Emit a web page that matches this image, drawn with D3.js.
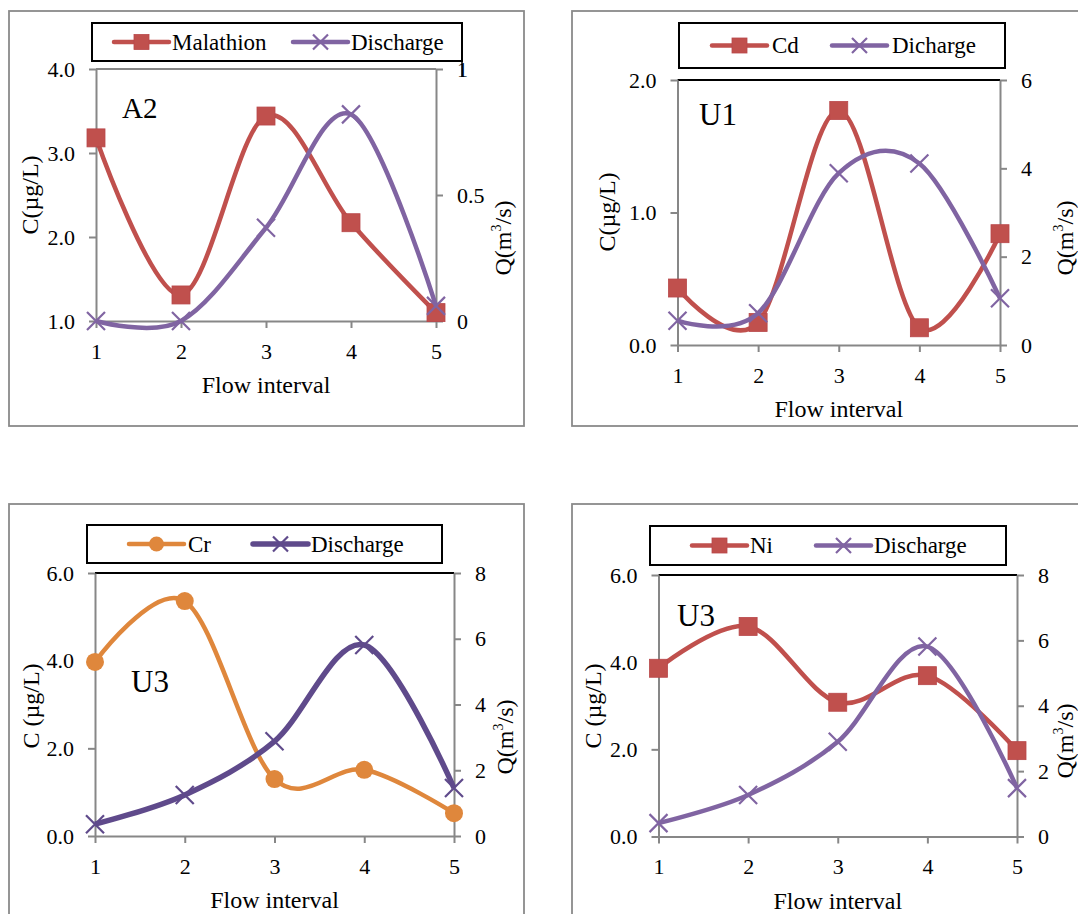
<!DOCTYPE html>
<html>
<head>
<meta charset="utf-8">
<script src="https://cdn.jsdelivr.net/npm/d3@7"></script>
<style>
  html, body { margin: 0; padding: 0; background: #fff; }
  svg { display: block; }
  text { font-family: "Liberation Serif", "Times New Roman", serif; fill: #000; }
</style>
</head>
<body>
<svg id="chart" width="1078" height="914"></svg>
<script>
// Flow intervals shared by all four stations
const flowIntervals = [1, 2, 3, 4, 5];

// Station A2: malathion concentration (µg/L) and discharge (m³/s)
const malathionA2 = [3.18, 1.31, 3.44, 2.17, 1.10];
const dischargeA2 = [0.00, 0.00, 0.37, 0.82, 0.06];

// Station U1: cadmium concentration and discharge
const cadmiumU1 = [0.43, 0.17, 1.77, 0.13, 0.84];
const dischargeU1 = [0.55, 0.72, 3.89, 4.11, 1.06];

// Station U3: chromium and nickel concentrations with discharge
const chromiumU3 = [3.97, 5.36, 1.30, 1.51, 0.52];
const dischargeU3Cr = [0.36, 1.25, 2.88, 5.81, 1.46];
const nickelU3 = [3.86, 4.82, 3.08, 3.69, 1.97];
const dischargeU3Ni = [0.41, 1.27, 2.90, 5.81, 1.48];

// Axis ticks
const concTicksA2 = [1, 2, 3, 4];
const flowTicksA2 = [0, 0.5, 1];
const concTicksU1 = [0, 1, 2];
const flowTicksU1 = [0, 2, 4, 6];
const concTicksU3 = [0, 2, 4, 6];
const flowTicksU3 = [0, 2, 4, 6, 8];

const RED = "#C0504D", PURPLE = "#8064A2", DARK_PURPLE = "#5F4A8B", ORANGE = "#DF873C";
const GREY = "#878787";

const panels = [
  {
    frame: [9, 11, 515, 415], plot: [96, 436, 69, 321],
    conc: malathionA2, flow: dischargeA2,
    concDomain: [1, 4], concTicks: concTicksA2, flowDomain: [0, 1], flowTicks: flowTicksA2,
    concName: "Malathion", flowName: "Discharge",
    concColor: RED, flowColor: PURPLE, marker: "square", flowWidth: 4.5,
    station: "A2", stationPos: [122, 118], stationSize: 29,
    yTitle: "C(µg/L)", yTitlePos: [30, 195], y2TitlePos: [503, 238],
    legend: [92, 23, 370, 38], legendItems: [114, 172, 293, 351],
    topColor: GREY, stub: true
  },
  {
    frame: [572, 11, 560, 415], plot: [677.5, 1000, 80, 345],
    conc: cadmiumU1, flow: dischargeU1,
    concDomain: [0, 2], concTicks: concTicksU1, flowDomain: [0, 6], flowTicks: flowTicksU1,
    concName: "Cd", flowName: "Dicharge",
    concColor: RED, flowColor: PURPLE, marker: "square", flowWidth: 4.5,
    station: "U1", stationPos: [699, 125], stationSize: 31,
    yTitle: "C(µg/L)", yTitlePos: [607, 212], y2TitlePos: [1065, 238],
    legend: [679, 23, 326, 45], legendItems: [712, 772, 832, 892],
    topColor: "#000"
  },
  {
    frame: [9, 504, 515, 440], plot: [95, 454, 573, 836],
    conc: chromiumU3, flow: dischargeU3Cr,
    concDomain: [0, 6], concTicks: concTicksU3, flowDomain: [0, 8], flowTicks: flowTicksU3,
    concName: "Cr", flowName: "Discharge",
    concColor: ORANGE, flowColor: DARK_PURPLE, marker: "circle", flowWidth: 5.5,
    station: "U3", stationPos: [131, 692], stationSize: 31,
    yTitle: "C (µg/L)", yTitlePos: [31, 706], y2TitlePos: [505, 737],
    legend: [87, 525, 355, 38], legendItems: [129, 188, 253, 311],
    topColor: "#000"
  },
  {
    frame: [572, 504, 560, 440], plot: [658.5, 1017, 575, 836.5],
    conc: nickelU3, flow: dischargeU3Ni,
    concDomain: [0, 6], concTicks: concTicksU3, flowDomain: [0, 8], flowTicks: flowTicksU3,
    concName: "Ni", flowName: "Discharge",
    concColor: RED, flowColor: PURPLE, marker: "square", flowWidth: 4.5,
    station: "U3", stationPos: [677, 626], stationSize: 31,
    yTitle: "C (µg/L)", yTitlePos: [593, 706], y2TitlePos: [1065, 741],
    legend: [650, 526, 356, 39], legendItems: [692, 750, 816, 874],
    topColor: "#000"
  }
];

const svg = d3.select("#chart");
const curve = d3.curveCardinal.tension(0);

function drawMarker(g, type, x, y, color, size) {
  if (type === "square") {
    g.append("rect").attr("x", x - size / 2).attr("y", y - size / 2)
      .attr("width", size).attr("height", size)
      .attr("fill", color).attr("stroke", "#B8474A").attr("stroke-width", 0.8);
  } else if (type === "circle") {
    g.append("circle").attr("cx", x).attr("cy", y).attr("r", size / 2).attr("fill", color);
  } else {
    const h = size / 2;
    g.append("path")
      .attr("d", `M${x - h},${y - h}L${x + h},${y + h}M${x - h},${y + h}L${x + h},${y - h}`)
      .attr("stroke", color).attr("stroke-width", 2.2).attr("fill", "none");
  }
}

function styleAxis(g) {
  g.selectAll("path.domain").attr("stroke", GREY).attr("stroke-width", 2);
  g.selectAll(".tick line").attr("stroke", GREY).attr("stroke-width", 2);
  g.selectAll("text").attr("font-size", 22).attr("font-family", '"Liberation Serif", serif').attr("fill", "#000");
}

panels.forEach(p => {
  const [fx, fy, fw, fh] = p.frame;
  const [x0, x1, yTop, yBot] = p.plot;
  const g = svg.append("g");

  // Chart frame
  g.append("rect").attr("x", fx).attr("y", fy).attr("width", fw).attr("height", fh)
    .attr("fill", "#fff").attr("stroke", "#8a8a8a").attr("stroke-width", 1.8);

  const x = d3.scaleLinear().domain([1, 5]).range([x0, x1]);
  const y = d3.scaleLinear().domain(p.concDomain).range([yBot, yTop]);
  const y2 = d3.scaleLinear().domain(p.flowDomain).range([yBot, yTop]);

  // Top edge of the plot area
  g.append("line").attr("x1", x0).attr("x2", x1).attr("y1", yTop).attr("y2", yTop)
    .attr("stroke", p.topColor).attr("stroke-width", 2);

  g.append("g").attr("transform", `translate(0,${yBot})`)
    .call(d3.axisBottom(x).tickValues(flowIntervals).tickFormat(d3.format("d"))
      .tickSize(7).tickSizeOuter(0).tickPadding(15))
    .call(styleAxis);

  g.append("g").attr("transform", `translate(${x0},0)`)
    .call(d3.axisLeft(y).tickValues(p.concTicks).tickFormat(d3.format(".1f"))
      .tickSize(7).tickSizeOuter(0).tickPadding(14))
    .call(styleAxis);

  g.append("g").attr("transform", `translate(${x1},0)`)
    .call(d3.axisRight(y2).tickValues(p.flowTicks).tickFormat(d => String(d))
      .tickSize(7).tickSizeOuter(0).tickPadding(14))
    .call(styleAxis);

  // Axis titles
  g.append("text").attr("x", (x0 + x1) / 2).attr("y", yBot + 72)
    .attr("text-anchor", "middle").attr("font-size", 24).text("Flow interval");

  g.append("text").attr("transform", `translate(${p.yTitlePos[0]},${p.yTitlePos[1]}) rotate(-90)`)
    .attr("text-anchor", "middle").attr("dominant-baseline", "central")
    .attr("font-size", 24).text(p.yTitle);

  const q = g.append("text").attr("transform", `translate(${p.y2TitlePos[0]},${p.y2TitlePos[1]}) rotate(-90)`)
    .attr("text-anchor", "middle").attr("dominant-baseline", "central").attr("font-size", 24);
  q.append("tspan").text("Q(m");
  q.append("tspan").attr("font-size", 14).attr("dy", -7).text("3");
  q.append("tspan").attr("dy", 7).text("/s)");

  // Station label
  g.append("text").attr("x", p.stationPos[0]).attr("y", p.stationPos[1])
    .attr("font-size", p.stationSize).text(p.station);

  // Concentration series
  const concLine = d3.line().x((d, i) => x(flowIntervals[i])).y(d => y(d)).curve(curve);
  g.append("path").datum(p.conc).attr("d", concLine)
    .attr("fill", "none").attr("stroke", p.concColor).attr("stroke-width", 4.5);
  p.conc.forEach((v, i) => drawMarker(g, p.marker, x(flowIntervals[i]), y(v), p.concColor, 18));

  // Discharge series on the secondary axis
  const flowLine = d3.line().x((d, i) => x(flowIntervals[i])).y(d => y2(d)).curve(curve);
  g.append("path").datum(p.flow).attr("d", flowLine)
    .attr("fill", "none").attr("stroke", p.flowColor).attr("stroke-width", p.flowWidth);
  p.flow.forEach((v, i) => drawMarker(g, "x", x(flowIntervals[i]), y2(v), p.flowColor, 18));

  // Legend
  const [lx, ly, lw, lh] = p.legend;
  g.append("rect").attr("x", lx).attr("y", ly).attr("width", lw).attr("height", lh)
    .attr("fill", "#fff").attr("stroke", "#000").attr("stroke-width", 2);
  if (p.stub) {
    g.append("line").attr("x1", lx + lw).attr("x2", lx + lw).attr("y1", ly + lh).attr("y2", ly + lh + 16)
      .attr("stroke", "#000").attr("stroke-width", 1.5);
  }
  const cy = ly + lh / 2;
  const [c1, t1, c2, t2] = p.legendItems;
  const entries = [
    { start: c1, text: t1, color: p.concColor, marker: p.marker, name: p.concName, w: 4.5 },
    { start: c2, text: t2, color: p.flowColor, marker: "x", name: p.flowName, w: p.flowWidth }
  ];
  entries.forEach(e => {
    g.append("line").attr("x1", e.start).attr("x2", e.start + 55).attr("y1", cy).attr("y2", cy)
      .attr("stroke", e.color).attr("stroke-width", e.w).attr("stroke-linecap", "round");
    drawMarker(g, e.marker, e.start + 27.5, cy, e.color, 15);
    g.append("text").attr("x", e.text).attr("y", cy).attr("dy", "0.34em")
      .attr("font-size", 23).text(e.name);
  });
});
</script>
</body>
</html>
